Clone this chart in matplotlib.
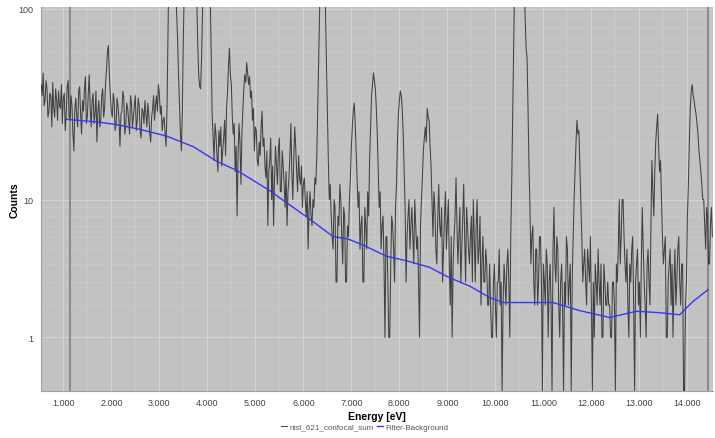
import matplotlib
matplotlib.use('Agg')
import matplotlib.pyplot as plt
from matplotlib.ticker import FixedLocator, FixedFormatter
import numpy as np

plt.rcParams['font.family'] = ['Liberation Sans', 'DejaVu Sans']

# counts, channels 0.02 keV apart starting at 0.54 keV
# (one block per keV)
counts = [
    # 0.54 .. 1.52
    40, 35, 46, 31, 33, 42, 38, 27, 29, 36,
    35, 24, 41, 30, 27, 38, 33, 26, 37, 31,
    30, 40, 25, 34, 36, 23, 28, 39, 42, 27,
    26, 35, 31, 22, 18, 30, 34, 27, 24, 37,
    39, 28, 22, 33, 29, 38, 44, 25, 27, 36,
    # 1.54 .. 2.52
    45, 30, 24, 33, 36, 25, 28, 37, 20, 29,
    33, 24, 26, 35, 38, 27, 30, 41, 48, 60,
    64, 44, 35, 29, 27, 36, 33, 23, 25, 34,
    31, 26, 19, 28, 29, 37, 34, 22, 24, 32,
    30, 26, 22, 35, 32, 24, 27, 31, 35, 23,
    # 2.54 .. 3.52
    26, 34, 31, 23, 21, 30, 29, 25, 33, 28,
    24, 32, 28, 22, 20, 27, 30, 35, 26, 31,
    35, 29, 40, 36, 28, 31, 23, 26, 27, 22,
    19, 30, 70, 180, 400, 480, 500, 420, 300, 200,
    130, 95, 70, 45, 31, 22, 18, 30, 70, 130,
    # 3.54 .. 4.52
    200, 380, 600, 780, 900, 980, 1000, 920, 800, 600,
    400, 220, 110, 65, 45, 39, 38, 55, 95, 180,
    300, 380, 400, 340, 250, 180, 120, 60, 28, 21,
    16, 25, 22, 17, 14, 23, 19, 24, 15, 18,
    21, 26, 17, 30, 36, 50, 62, 45, 40, 27,
    # 4.54 .. 5.52
    22, 25, 14, 19, 8, 17, 25, 20, 12, 22,
    30, 38, 45, 41, 52, 46, 40, 44, 34, 37,
    26, 30, 18, 24, 23, 16, 15, 20, 17, 24,
    29, 19, 21, 15, 13, 18, 7, 14, 16, 21,
    10, 15, 7, 13, 19, 15, 12, 18, 21, 11,
    # 5.54 .. 6.52
    11, 18, 15, 12, 9, 14, 7, 11, 13, 17,
    25, 14, 10, 16, 24, 19, 14, 11, 17, 13,
    12, 15, 9, 12, 13, 10, 8, 11, 5, 9,
    11, 8, 7, 10, 9, 13, 12, 17, 30, 55,
    100, 190, 300, 340, 300, 200, 100, 55, 30, 16,
    # 6.54 .. 7.52
    10, 12, 8, 6, 5, 10, 9, 3, 3, 8,
    7, 12, 10, 6, 4, 9, 8, 3, 3, 7,
    6, 10, 13, 19, 24, 29, 32, 25, 18, 13,
    9, 11, 5, 7, 8, 3, 3, 9, 7, 5,
    11, 8, 16, 24, 35, 40, 46, 42, 38, 30,
    # 7.54 .. 8.52
    22, 14, 9, 11, 5, 7, 8, 4, 1, 6,
    6, 3, 1, 1, 4, 8, 7, 5, 3, 9,
    12, 20, 28, 33, 37, 35, 30, 22, 14, 9,
    3, 6, 8, 10, 5, 7, 9, 6, 4, 10,
    7, 5, 6, 3, 1, 7, 10, 13, 18, 21,
    # 8.54 .. 9.52
    24, 20, 30, 27, 26, 19, 15, 10, 6, 11,
    9, 5, 4, 8, 12, 7, 6, 9, 3, 5,
    8, 11, 5, 7, 10, 4, 2, 6, 1, 4,
    6, 8, 13, 7, 4, 6, 9, 3, 5, 8,
    12, 6, 3, 9, 7, 5, 4, 6, 8, 3,
    # 9.54 .. 10.52
    10, 6, 3, 7, 10, 4, 5, 8, 2, 4,
    6, 3, 3, 5, 4, 2, 2, 4, 2, 1,
    1, 3, 4, 2, 1, 3, 3, 5, 2, 3,
    0, 2, 4, 3, 2, 4, 5, 3, 1, 6,
    12, 28, 60, 140, 300, 450, 600, 680, 700, 620,
    # 10.54 .. 11.52
    500, 340, 200, 130, 90, 62, 55, 30, 15, 9,
    4, 6, 7, 3, 2, 5, 5, 2, 3, 6,
    6, 3, 0, 4, 3, 2, 5, 4, 1, 3,
    4, 2, 0, 5, 9, 4, 3, 6, 5, 2,
    1, 3, 4, 2, 0, 3, 2, 6, 5, 2,
    # 11.54 .. 12.52
    3, 4, 0, 3, 6, 10, 14, 20, 26, 22,
    23, 15, 10, 6, 3, 4, 5, 3, 2, 5,
    4, 3, 6, 2, 0, 3, 1, 4, 3, 2,
    5, 3, 2, 4, 1, 1, 4, 3, 2, 2,
    3, 2, 2, 1, 1, 3, 3, 2, 0, 4,
    # 12.54 .. 13.52
    3, 5, 10, 4, 6, 10, 10, 6, 4, 3,
    5, 2, 1, 4, 3, 5, 6, 2, 0, 3,
    4, 5, 2, 3, 1, 4, 9, 5, 3, 2,
    1, 4, 5, 3, 2, 7, 16, 11, 8, 14,
    20, 24, 28, 19, 14, 16, 10, 6, 4, 5,
    # 13.54 .. 14.52
    6, 1, 1, 3, 4, 5, 2, 4, 1, 3,
    5, 2, 3, 5, 6, 3, 2, 4, 4, 0,
    0, 2, 3, 8, 12, 20, 30, 37, 40, 35,
    33, 30, 28, 25, 22, 18, 16, 14, 12, 10,
    10, 7, 5, 9, 8, 4, 4, 7, 9, 6,
]
energy = np.round(0.54 + 0.02 * np.arange(len(counts)), 2)

# filtered background
bg_energy = [1.07, 1.69, 2.11, 2.60, 3.15, 3.71, 4.19, 4.64, 5.31, 5.51, 6.07, 6.62,
             6.93, 7.25, 7.73, 8.15, 8.63, 8.98, 9.26, 9.47, 9.88, 10.16, 11.20, 11.76,
             12.38, 12.94, 13.42, 13.84, 14.12, 14.43]
bg_counts = [26.3, 25.5, 24.7, 23.3, 21.5, 18.9, 15.9, 14.1, 11.1, 10.2, 7.9, 6.0,
             5.8, 5.3, 4.5, 4.2, 3.8, 3.3, 3.0, 2.8, 2.3, 2.1, 2.1, 1.8,
             1.57, 1.78, 1.73, 1.66, 2.15, 2.64]

marker_lines = [1.14, 14.42]
x_ticks = list(range(1, 15))
x_labels = ['{:.3f}'.format(t) for t in x_ticks]
y_ticks = [1, 10, 100]
y_labels = ['1', '10', '100']


# log axis that stays defined down to zero counts
def fwd(v):
    v = np.asarray(v, dtype=float)
    low = np.log10(np.clip(0.9 * v + 1.0, 1e-6, None))
    high = np.log10(np.clip(v, 1e-6, None))
    return np.where(v < 10, low, high)


def inv(y):
    y = np.asarray(y, dtype=float)
    return np.where(y < 1, (10.0 ** y - 1.0) / 0.9, 10.0 ** y)


fig = plt.figure(figsize=(7.15, 4.39), dpi=100)
ax = fig.add_axes([0.057, 0.108, 0.940, 0.874])
ax.set_facecolor('#c2c2c2')
ax.set_yscale('function', functions=(fwd, inv))

ax.plot(energy, counts, color='#2a2a2a', linewidth=0.75, alpha=0.85,
        label='nist_621_confocal_sum', zorder=3)
ax.plot(bg_energy, bg_counts, color='#3838ee', linewidth=1.0,
        label='Filter-Background', zorder=4)
for m in marker_lines:
    ax.axvline(m, color='#858585', linewidth=1.3, zorder=2)

ax.set_xlim(0.53, 14.53)
ax.set_ylim(0, 102)

ax.xaxis.set_major_locator(FixedLocator(x_ticks))
ax.xaxis.set_major_formatter(FixedFormatter(x_labels))
ax.xaxis.set_minor_locator(FixedLocator([t + 0.5 for t in range(0, 15)]))
ax.yaxis.set_major_locator(FixedLocator(y_ticks))
ax.yaxis.set_major_formatter(FixedFormatter(y_labels))
ax.yaxis.set_minor_locator(FixedLocator([2, 3, 4, 5, 6, 7, 8, 9, 20, 30, 40, 50, 60, 70, 80, 90]))
ax.yaxis.set_minor_formatter(FixedFormatter([]))

ax.grid(True, which='major', color='#d4d4d4', linewidth=0.8, zorder=1)
ax.grid(True, which='minor', color='#cacaca', linewidth=0.6, zorder=1)
ax.set_axisbelow(True)

ax.tick_params(which='both', length=0, labelsize=6.5, labelcolor='#444444', pad=5)
for side in ['top', 'right']:
    ax.spines[side].set_visible(False)
for side in ['left', 'bottom']:
    ax.spines[side].set_color('#a0a0a0')
    ax.spines[side].set_linewidth(0.8)

ax.set_xlabel('Energy [eV]', fontsize=7.5, fontweight='bold', labelpad=3)
ax.set_ylabel('Counts', fontsize=7.5, fontweight='bold')
ax.yaxis.set_label_coords(-0.031, 0.5)

fig.legend(loc='lower center', bbox_to_anchor=(0.51, 0.0), ncol=2, frameon=False,
           fontsize=5.8, handlelength=0.8, handletextpad=0.3, columnspacing=0.4,
           labelcolor='#555555')

fig.savefig('out.png', dpi=100, facecolor='white')
